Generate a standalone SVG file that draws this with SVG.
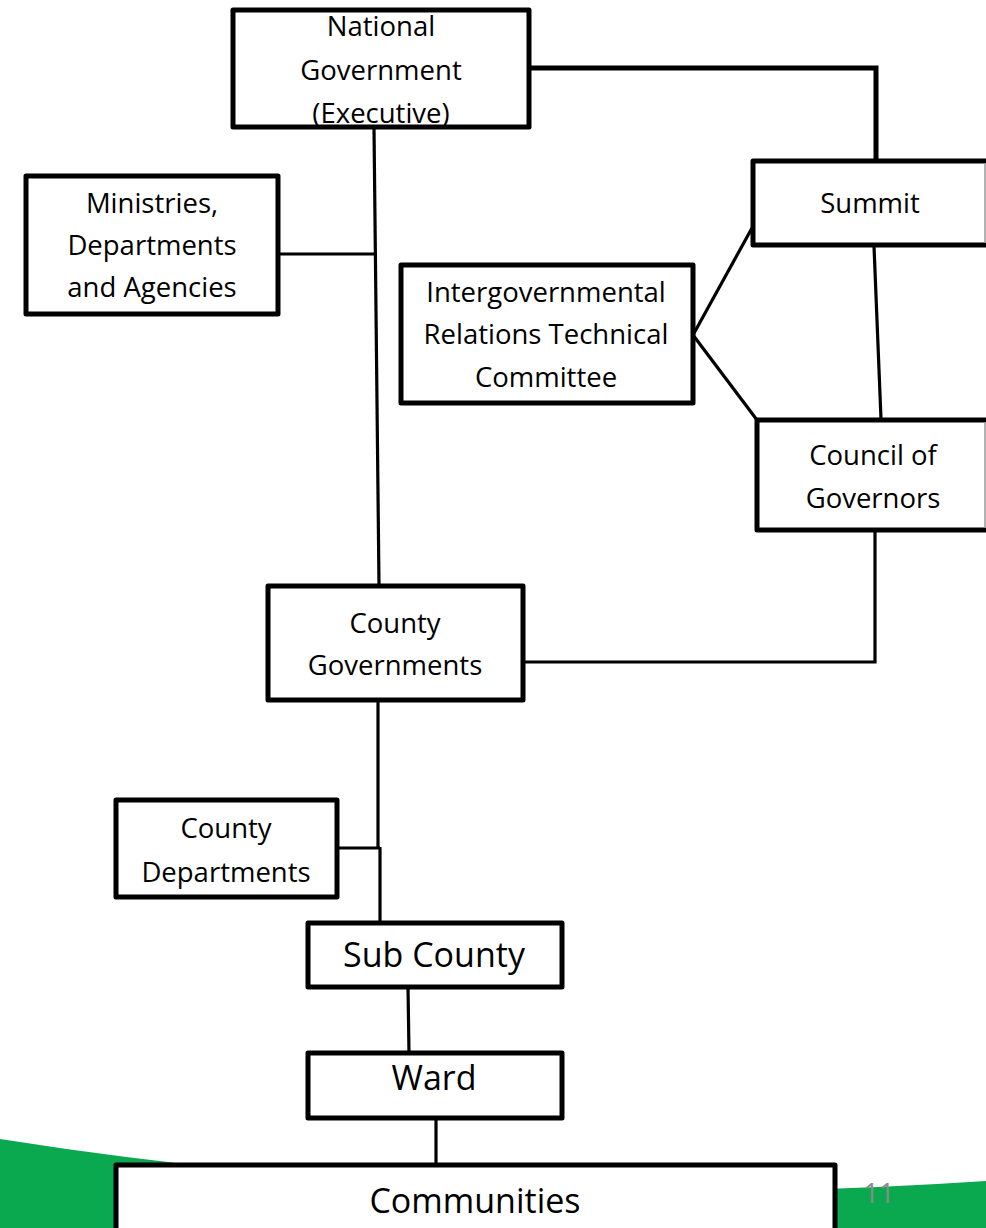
<svg xmlns="http://www.w3.org/2000/svg" width="986" height="1228" viewBox="0 0 986 1228">
<style>
.box{fill:#fff;stroke:#000;stroke-width:5;stroke-linejoin:round}
.edge{stroke:#999;stroke-width:1.5}
.t{font-family:"Open Sans","Noto Sans",sans-serif;font-size:27.5px;fill:#000;text-anchor:middle}
.tb{font-family:"Open Sans","Noto Sans",sans-serif;font-size:34px;fill:#000;text-anchor:middle}
.c{fill:none;stroke:#000;stroke-width:3.2}
.ct{fill:none;stroke:#000;stroke-width:5}
</style>
<rect width="986" height="1228" fill="#fff"/>
<path d="M0,1139 Q480,1215 986,1181 L986,1228 L0,1228 Z" fill="#0aa84f"/>
<text x="879" y="1203" font-family="Open Sans, sans-serif" font-size="27px" fill="#8c8c8c" text-anchor="middle">11</text>
<g id="connectors">
<polyline class="ct" points="529,68 876,68 876,160"/>
<line class="c" x1="374" y1="128" x2="379" y2="585"/>
<line class="c" x1="278" y1="254" x2="377" y2="254"/>
<line class="c" x1="693" y1="335" x2="752" y2="228"/>
<line class="c" x1="693" y1="335" x2="757" y2="420"/>
<line class="c" x1="874" y1="246" x2="881" y2="419"/>
<polyline class="c" points="875,530 875,662 523,662"/>
<line class="c" x1="378" y1="700" x2="378" y2="849"/>
<line class="c" x1="337" y1="848" x2="380" y2="848"/>
<line class="c" x1="380" y1="847" x2="380" y2="922"/>
<line class="c" x1="408" y1="987" x2="409" y2="1053"/>
<line class="c" x1="436" y1="1118" x2="436" y2="1165"/>
</g>
<g id="national">
<rect class="box" x="233" y="10" width="296" height="117"/>
<text class="t" x="381" y="36">National</text>
<text class="t" x="381" y="80">Government</text>
<text class="t" x="381" y="123">(Executive)</text>
</g>
<g id="summit">
<rect class="box" x="753" y="161" width="260" height="84"/>
<line class="edge" x1="985" y1="163" x2="985" y2="243"/>
<text class="t" x="870" y="213">Summit</text>
</g>
<g id="ministries">
<rect class="box" x="26" y="176" width="252" height="138"/>
<text class="t" x="152" y="213">Ministries,</text>
<text class="t" x="152" y="255">Departments</text>
<text class="t" x="152" y="297">and Agencies</text>
</g>
<g id="irtc">
<rect class="box" x="401" y="265" width="292" height="138"/>
<text class="t" x="546" y="302">Intergovernmental</text>
<text class="t" x="546" y="344">Relations Technical</text>
<text class="t" x="546" y="387">Committee</text>
</g>
<g id="council">
<rect class="box" x="757" y="420" width="260" height="110"/>
<line class="edge" x1="985" y1="422" x2="985" y2="528"/>
<text class="t" x="873" y="465">Council of</text>
<text class="t" x="873" y="508">Governors</text>
</g>
<g id="county-gov">
<rect class="box" x="268" y="586" width="255" height="114"/>
<text class="t" x="395" y="633">County</text>
<text class="t" x="395" y="675">Governments</text>
</g>
<g id="county-dept">
<rect class="box" x="116" y="800" width="221" height="97"/>
<text class="t" x="226" y="838">County</text>
<text class="t" x="226" y="882">Departments</text>
</g>
<g id="sub-county">
<rect class="box" x="308" y="923" width="254" height="64"/>
<text class="tb" x="434" y="967">Sub County</text>
</g>
<g id="ward">
<rect class="box" x="308" y="1053" width="254" height="65"/>
<text class="tb" x="434" y="1090">Ward</text>
</g>
<g id="communities">
<rect class="box" x="116" y="1165" width="719" height="80"/>
<text class="tb" x="475" y="1213">Communities</text>
</g>
</svg>
